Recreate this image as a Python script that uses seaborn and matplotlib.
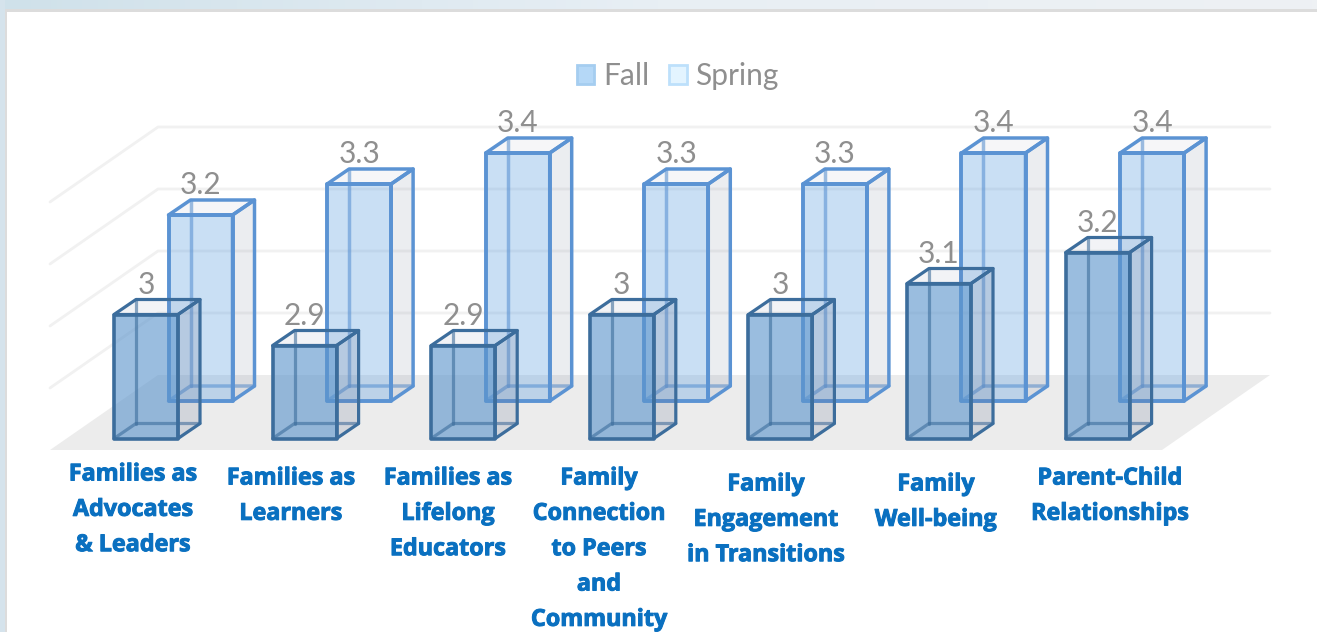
import numpy as np
import pandas as pd
import matplotlib.pyplot as plt
import matplotlib.patheffects as pe
import seaborn as sns
from matplotlib.patches import Patch, Polygon

categories = ["Families as\nAdvocates\n& Leaders", "Families as\nLearners", "Families as\nLifelong\nEducators",
              "Family\nConnection\nto Peers\nand\nCommunity", "Family\nEngagement\nin Transitions",
              "Family\nWell-being", "Parent-Child\nRelationships"]
fall = [3.0, 2.9, 2.9, 3.0, 3.0, 3.1, 3.2]
spring = [3.2, 3.3, 3.4, 3.3, 3.3, 3.4, 3.4]
wall_ticks = [2.6, 2.8, 3.0, 3.2, 3.4]

# label placement in pixels, the original labels are not evenly spaced
label_x = [133, 291, 448, 599, 766, 936, 1110]
label_top = [462.5, 466.5, 466.5, 466.5, 472.5, 472.5, 466.5]

W, H = 1317, 632
STEP = 158.6       # px between categories
PX_PER_UNIT = 310  # px per 1.0 of value
BAR_PX = 64
DEPTH_X, DEPTH_Y = 22, 15
Y_MIN, Y_MAX = 2.6, 3.6

sns.set_theme(style="white")
plt.rcParams['font.family'] = ['Lato', 'DejaVu Sans']

fig = plt.figure(figsize=(W / 100, H / 100), dpi=100, facecolor="white")


def make_layer(center_px, base_px, zorder):
    # full width axes whose bottom edge is the bar baseline
    ax = fig.add_axes([0, 1 - base_px / H, 1, PX_PER_UNIT * (Y_MAX - Y_MIN) / H], zorder=zorder)
    ax.patch.set_alpha(0)
    return ax, (-center_px / STEP, (W - center_px) / STEP)


def draw_bars(ax, xlim, values, front, edge, side, top, lw):
    df = pd.DataFrame({"category": categories, "value": values})
    sns.barplot(data=df, x="category", y="value", order=categories, color=front, saturation=1,
                width=BAR_PX / STEP, linewidth=0, ax=ax)
    ax.set_xlim(*xlim)
    ax.set_ylim(Y_MIN, Y_MAX)
    ax.axis("off")
    dx, dy = DEPTH_X / STEP, DEPTH_Y / PX_PER_UNIT
    for bar, val in zip(ax.patches, values):
        x0, x1 = bar.get_x(), bar.get_x() + bar.get_width()
        faces = [
            ([(x1, Y_MIN), (x1 + dx, Y_MIN + dy), (x1 + dx, val + dy), (x1, val)], side),
            ([(x0, val), (x0 + dx, val + dy), (x1 + dx, val + dy), (x1, val)], top),
        ]
        for pts, col in faces:
            ax.add_patch(Polygon(pts, closed=True, facecolor=col, edgecolor=edge, linewidth=lw,
                                 joinstyle="round", clip_on=False, zorder=3))
        # hidden edges show through the glass
        ax.plot([x0 + dx, x0 + dx], [Y_MIN + dy, val + dy], color=edge, lw=lw, alpha=0.6, clip_on=False, zorder=2)
        ax.plot([x0, x0 + dx, x1 + dx], [Y_MIN, Y_MIN + dy, Y_MIN + dy], color=edge, lw=lw, alpha=0.6,
                clip_on=False, zorder=2)
        ax.add_patch(Polygon([(x0, Y_MIN), (x1, Y_MIN), (x1, val), (x0, val)], closed=True, fill=False,
                             edgecolor=edge, linewidth=lw + 0.3, joinstyle="round", clip_on=False, zorder=4))
        ax.annotate(f"{val:g}", ((x0 + x1) / 2, val), xytext=(0, 21.5), textcoords="offset points",
                    ha="center", va="center", fontsize=21.5, color="#8f8f8f", annotation_clip=False)


# page background around the chart panel
ax_bg = fig.add_axes([0, 0, 1, 1], zorder=0)
ax_bg.set_xlim(0, W)
ax_bg.set_ylim(H, 0)
ax_bg.axis("off")
ax_bg.imshow(np.linspace(0, 1, 256).reshape(1, -1), extent=(0, W, 10, 0), aspect="auto", cmap=sns.blend_palette(
    ["#cfe1ea", "#e8eff5", "#eef1f4"], as_cmap=True))
ax_bg.fill_between([0, 5], 0, H, color="#d5e3ec", lw=0)
ax_bg.fill_between([5, W], 9, 12, color="#dcdcdc", lw=0)
ax_bg.fill_between([5, 7], 9, H, color="#dcdcdc", lw=0)
ax_bg.set_xlim(0, W)
ax_bg.set_ylim(H, 0)

# floor and walls
WALL_BASE = 375
ax_wall = fig.add_axes([0, 1 - WALL_BASE / H, 1, PX_PER_UNIT * (Y_MAX - Y_MIN) / H], zorder=1)
ax_wall.patch.set_alpha(0)
ax_wall.set_xlim(0, W)
ax_wall.set_ylim(Y_MIN, Y_MAX)
ax_wall.axis("off")
drop = 75 / PX_PER_UNIT
ax_wall.add_patch(Polygon([(50, Y_MIN - drop), (1162, Y_MIN - drop), (1270, Y_MIN), (158, Y_MIN)], closed=True,
                          facecolor="#ececec", edgecolor="none", clip_on=False))
for tick in wall_ticks[1:]:
    ax_wall.plot([50, 158, 1270], [tick - drop, tick, tick], color="#f1f1f1", lw=2.0, clip_on=False)

ax_spring, spring_lim = make_layer(200.5, 401, 2)
draw_bars(ax_spring, spring_lim, spring, (0.357, 0.62, 0.88, 0.33), "#5b93d3",
          (0.45, 0.5, 0.6, 0.14), (0.5, 0.55, 0.65, 0.07), 2.5)

ax_fall, fall_lim = make_layer(146, 438.5, 3)
draw_bars(ax_fall, fall_lim, fall, (0.365, 0.585, 0.80, 0.62), "#3c6d9c",
          (0.4, 0.45, 0.58, 0.19), (0.45, 0.5, 0.62, 0.09), 2.3)

handles = [Patch(facecolor="#b5d8f7", edgecolor="#a5cdf0", linewidth=2, joinstyle="round", label="Fall"),
           Patch(facecolor="#e3f4ff", edgecolor="#bde0fb", linewidth=2, joinstyle="round", label="Spring")]
fig.legend(handles=handles, loc="center", bbox_to_anchor=(678 / W, 1 - 76 / H), ncol=2, frameon=False,
           fontsize=21.5, labelcolor="#8f8f8f", handlelength=0.58, handleheight=0.62, handletextpad=0.3,
           columnspacing=0.66)

for name, x, y in zip(categories, label_x, label_top):
    fig.text(x / W, 1 - y / H, name, ha="center", va="top", multialignment="center", family=["Open Sans", "DejaVu Sans"],
             fontweight="bold", fontsize=16.8, color="#0a70c0", linespacing=1.63, zorder=10,
             path_effects=[pe.withStroke(linewidth=0.7, foreground="#0a70c0")])

fig.savefig("out.png", dpi=100)
